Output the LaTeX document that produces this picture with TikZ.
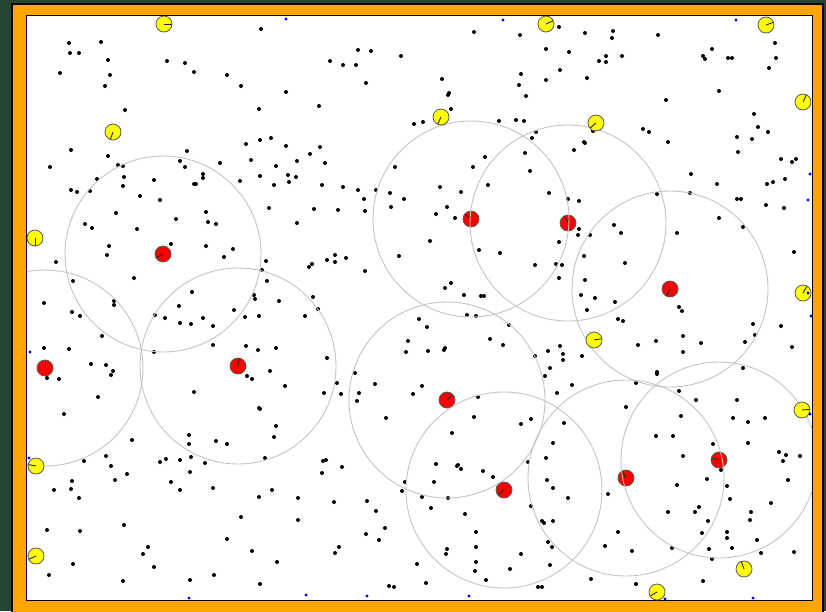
\documentclass[tikz,border=0pt]{standalone}
\usepackage{xcolor}
\usepackage{tikz}
\usetikzlibrary{arrows.meta,positioning,calc}
\definecolor{BgGreen}{RGB}{38,70,52}
\definecolor{FrameOr}{RGB}{255,165,0}
\definecolor{BotRed}{RGB}{255,0,0}
\definecolor{BotYel}{RGB}{255,255,0}
\definecolor{RangeGr}{RGB}{196,196,196}
\definecolor{DotBlue}{RGB}{0,0,255}
\tikzset{
  bot/.style={circle,draw=black!65,line width=0.8pt,minimum size=16pt,inner sep=0pt},
  redbot/.style={bot,fill=BotRed},
  yelbot/.style={bot,fill=BotYel},
  rangecirc/.style={draw=RangeGr,line width=0.9pt},
  heading/.style={draw=black!85,line width=0.9pt},
  pt/.style={fill=black},
  bluept/.style={fill=DotBlue},
}

\begin{document}
\begin{tikzpicture}[x=1pt,y=-1pt]
  \useasboundingbox (0,0) rectangle (826,611);
  \fill[BgGreen] (0,0) rectangle (826,611);
  \draw[fill=FrameOr,line width=1.2pt] (12,4) rectangle (823,616);
  \draw[fill=white,line width=1.2pt] (26.5,15.5) rectangle (812.5,600.5);

  \begin{scope}
  \clip (27,16) rectangle (812,600);
  % sensed points
  \foreach \px/\py in {261/29, 69/43, 101/42, 70/53, 79/53, 108/60, 167/61, 185/63, 194/72, 60/73, 110/75, 227/75, 105/86, 241/86, 286/92, 125/110, 259/109, 246/144, 260/140, 271/138, 286/146, 71/150, 108/156, 187/151, 50/167, 118/165, 123/166, 180/161, 185/167, 220/163, 251/160, 276/166, 203/174, 203/178, 97/179, 124/177, 154/180, 194/184, 196/184, 240/181, 260/176, 288/175, 289/182, 274/185, 71/190, 77/192, 90/191, 123/186, 140/196, 160/200, 116/213, 206/212, 269/208, 85/224, 92/228, 137/229, 176/219, 208/222, 216/224, 171/244, 109/246, 107/255, 206/246, 233/249, 224/257, 56/262, 266/261, 262/270, 73/281, 134/278, 267/281, 192/292, 254/295, 255/299, 279/301, 44/303, 114/301, 114/305, 179/306,
    474/32, 520/35, 546/49, 358/50, 371/51, 401/56, 330/61, 343/65, 356/65, 521/74, 546/80, 442/79, 519/85, 366/83, 449/93, 448/95, 526/96, 319/106, 451/109, 414/124, 423/122, 499/121, 516/120, 524/121, 536/132, 532/138, 320/147, 310/154, 297/161, 325/163, 485/157, 525/153, 395/167, 473/167, 296/177, 530/171, 322/185, 343/187, 358/190, 376/190, 440/187, 461/192, 488/185, 549/193, 390/193, 364/199, 404/199, 314/209, 338/210, 365/211, 391/207, 447/207, 297/223, 436/214, 455/218, 430/241, 479/250, 500/253, 399/256, 535/265, 335/255, 327/260, 335/262, 346/258, 312/264, 309/267, 365/271, 451/283, 445/288, 464/295, 481/296, 484/296, 313/297,
    559/27, 585/33, 613/31, 612/38, 658/35, 569/52, 599/61, 606/56, 606/62, 622/56, 560/70, 587/78, 712/49, 703/56, 705/59, 728/58, 732/58, 775/43, 776/58, 769/68, 719/91, 666/100, 754/114, 758/127, 768/132, 752/139, 737/137, 738/152, 643/129, 649/132, 668/142, 584/142, 585/143, 574/150, 593/131, 781/159, 792/162, 796/159, 691/174, 717/184, 767/184, 773/182, 785/179, 690/193, 657/194, 737/199, 741/199, 766/205, 784/208, 568/199, 579/201, 719/218, 743/227, 614/225, 621/233, 677/233, 579/229, 578/235, 590/235, 559/242, 584/256, 625/263, 556/264, 562/265, 559/278, 585/280, 794/252, 581/295, 595/298, 615/302, 679/307,
    72/312, 80/316, 102/336, 44/348, 69/349, 47/378, 59/379, 91/364, 106/365, 113/371, 111/375, 98/397, 64/414, 132/440, 155/315, 165/318, 180/323, 191/324, 203/318, 213/326, 234/310, 245/317, 259/316, 154/352, 213/345, 246/346, 258/350, 276/348, 247/376, 252/379, 270/371, 285/386, 194/392, 259/408, 260/409, 276/426, 274/437, 189/435, 189/444, 216/441, 227/444, 265/458, 191/457, 180/460, 166/459, 160/462, 205/463, 190/472, 171/482, 180/490, 213/488, 272/490, 259/497, 106/456, 84/461, 111/466, 127/474, 115/480, 40/470, 72/481, 54/490, 71/489, 79/498, 241/517, 47/530, 80/531, 124/525, 227/539, 252/551, 148/547, 143/554, 154/567, 73/564, 49/575, 277/562, 214/575, 123/581, 190/580, 260/584,
    305/316, 318/309, 419/319, 427/327, 467/315, 476/316, 509/325, 408/341, 406/352, 428/351, 445/348, 444/350, 490/339, 503/345, 535/356, 548/351, 550/368, 545/376, 327/358, 355/373, 375/384, 422/386, 413/394, 359/393, 357/401, 337/383, 324/393, 341/394, 386/418, 478/397, 474/417, 521/424, 531/419, 452/433, 553/443, 546/458, 528/462, 323/461, 326/460, 342/467, 322/473, 436/464, 457/466, 458/465, 461/469, 483/471, 493/477, 547/480, 405/482, 402/491, 434/482, 422/497, 448/498, 431/508, 465/514, 531/506, 553/488, 298/498, 298/520, 334/502, 367/501, 376/511, 385/528, 366/534, 379/540, 339/547, 335/553, 542/521, 544/523, 553/521, 476/532, 476/547, 447/549, 446/554, 476/562, 475/571, 521/554, 548/542, 552/547, 550/565, 510/569, 417/564, 486/580, 426/583, 389/586, 394/587, 538/587, 542/587,
    587/310, 618/319, 623/321, 560/346, 563/354, 563/360, 582/356, 638/345, 656/341, 683/336, 683/352, 701/343, 682/311, 753/324, 755/335, 745/342, 781/326, 792/347, 743/368, 657/372, 657/374, 572/385, 557/393, 636/383, 679/391, 696/400, 737/400, 626/407, 681/416, 733/418, 748/422, 765/418, 564/423, 656/436, 673/436, 713/444, 748/443, 683/456, 779/452, 786/455, 783/461, 800/456, 721/470, 707/479, 677/485, 727/486, 788/480, 568/498, 608/494, 730/499, 771/503, 668/512, 699/507, 695/512, 751/512, 750/520, 708/521, 618/532, 702/533, 727/532, 727/538, 757/540, 605/546, 632/551, 672/548, 709/549, 732/548, 761/553, 794/552, 712/559, 591/579, 636/584, 703/581}
    \fill[pt] (\px,\py) circle (2pt);

  % red robots with their ranges
  \foreach \px/\py/\ang [count=\i] in {163/254/207, 45/368/90, 238/366/80, 471/219/141, 568/223/117, 670/289/243, 447/400/45, 504/490/220, 626/478/120, 719/460/165}
  {
    \node[redbot] (r\i) at (\px,\py) {};
    \draw[heading] (r\i.center) -- ++(\ang:7.5pt);
  }
  \foreach \i in {1,...,10}
    \draw[rangecirc] (r\i.center) circle (98pt);

  % yellow robots
  \foreach \px/\py/\ang [count=\i] in {164/24/0, 113/132/250, 35/238/270, 36/466/170, 36/556/205, 441/117/245, 546/24/25, 766/25/20, 803/102/65, 596/123/220, 803/293/60, 594/340/10, 802/410/5, 744/569/110, 657/592/210}
  {
    \node[yelbot] (y\i) at (\px,\py) {};
    \draw[heading] (y\i.center) -- ++(\ang:7.5pt);
  }

  \foreach \px/\py in {286/19, 503/20, 736/20, 810/174, 808/200, 808/293, 811/316, 810/414, 30/352, 29/458, 189/598, 306/595, 367/596, 469/596, 665/599, 753/598}
    \fill[bluept] (\px,\py) circle (1.7pt);
  \end{scope}
\end{tikzpicture}
\end{document}
